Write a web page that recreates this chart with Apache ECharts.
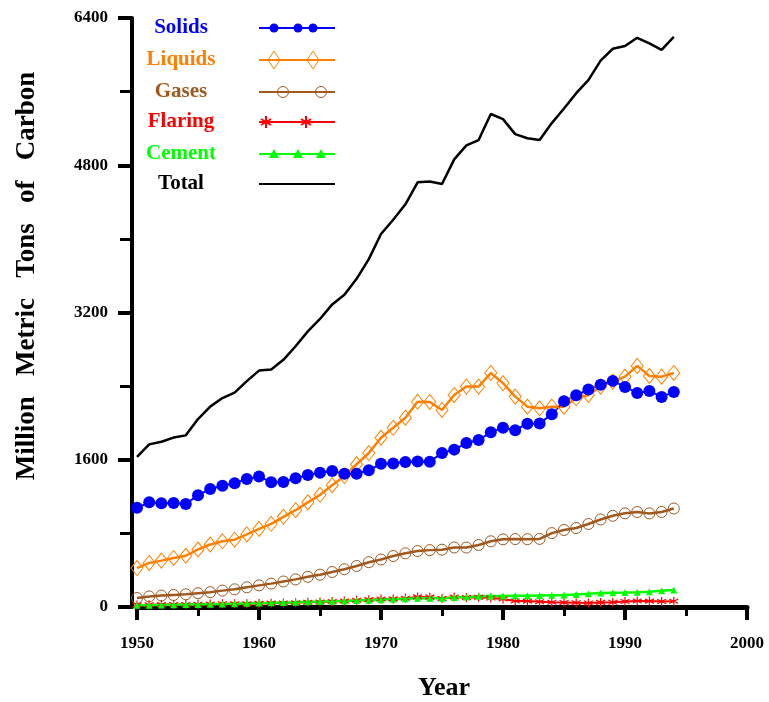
<!DOCTYPE html>
<html>
<head>
<meta charset="utf-8">
<script src="https://cdn.jsdelivr.net/npm/echarts@6/dist/echarts.min.js"></script>
<style>
html,body{margin:0;padding:0;background:#fff;}
#chart{width:769px;height:702px;}
</style>
</head>
<body>
<div id="chart"></div>
<script>
var years = [];
for (var y = 1950; y <= 1994; y++) years.push(y);

var solids = [1078,1137,1127,1129,1119,1215,1281,1317,1344,1390,1419,1356,1358,1398,1435,1460,1478,1448,1448,1486,1556,1559,1576,1581,1579,1673,1710,1781,1814,1899,1947,1921,1992,1995,2094,2237,2300,2364,2415,2457,2391,2326,2348,2283,2337];
var liquids = [423,479,504,533,557,625,679,714,731,789,849,904,980,1052,1137,1219,1323,1423,1551,1673,1839,1947,2057,2230,2228,2141,2304,2395,2395,2543,2433,2286,2177,2159,2177,2177,2268,2304,2395,2449,2503,2620,2510,2503,2543];
var gases = [97,115,124,131,138,150,161,178,192,214,235,254,277,300,328,351,380,410,446,487,516,554,583,608,618,623,647,646,674,714,735,738,737,740,803,837,858,902,951,991,1018,1032,1017,1033,1070];
var flaring = [23,24,26,27,27,30,32,35,35,36,39,42,44,47,51,55,60,66,73,80,87,88,95,110,107,92,108,104,106,98,86,65,64,58,51,49,46,44,50,51,60,65,64,60,62];
var cement = [18,20,22,24,26,27,30,32,36,40,43,45,49,51,57,59,63,65,70,74,78,84,89,95,96,95,103,108,116,119,120,121,121,125,128,131,137,143,152,156,157,161,167,176,186];
var total = [1630,1767,1795,1841,1865,2042,2177,2270,2330,2454,2569,2580,2686,2833,2995,3130,3288,3393,3566,3780,4053,4208,4376,4614,4623,4596,4864,5016,5074,5357,5301,5138,5094,5075,5258,5417,5583,5725,5936,6066,6096,6185,6124,6054,6196];

var seriesNames = ['Solids','Liquids','Gases','Flaring','Cement','Total'];
var seriesColors = ['#0000ff','#ff8000','#a0581e','#ff0000','#00ff00','#000000'];
var xTicks = [1950,1960,1970,1980,1990,2000];
var yTicks = [0,1600,3200,4800,6400];

function pairs(arr){ return years.map(function(yr,i){ return [yr, arr[i]]; }); }

var FONT = '"Liberation Serif","DejaVu Serif",serif';
var asterisk = 'path://M5,0 L5,10 M0.7,2.5 L9.3,7.5 M0.7,7.5 L9.3,2.5';

// legend drawn as graphics
var rowsY = [28,60,92,122,154,184];
var graphics = [];
seriesNames.forEach(function(n,i){
  var c = seriesColors[i], yy = rowsY[i];
  graphics.push({type:'text', x:181, y:yy, style:{text:n, fill:c, font:'bold 21px '+FONT, align:'center', verticalAlign:'middle'}});
  graphics.push({type:'line', shape:{x1:259,y1:yy,x2:335,y2:yy}, style:{stroke:c, lineWidth:2}});
});
[274,298,313].forEach(function(x){ graphics.push({type:'circle', shape:{cx:x, cy:rowsY[0], r:4.5}, style:{fill:seriesColors[0]}}); });
[274,313].forEach(function(x){ graphics.push({type:'polygon', shape:{points:[[x,rowsY[1]-9],[x+6,rowsY[1]],[x,rowsY[1]+9],[x-6,rowsY[1]]]}, style:{fill:'none', stroke:seriesColors[1], lineWidth:1}}); });
[283,321].forEach(function(x){ graphics.push({type:'circle', shape:{cx:x, cy:rowsY[2], r:5.5}, style:{fill:'none', stroke:seriesColors[2], lineWidth:1}}); });
[266,306].forEach(function(x){
  var cy = rowsY[3];
  graphics.push({type:'line', shape:{x1:x,y1:cy-6,x2:x,y2:cy+6}, style:{stroke:seriesColors[3], lineWidth:2}});
  graphics.push({type:'line', shape:{x1:x-5,y1:cy-3,x2:x+5,y2:cy+3}, style:{stroke:seriesColors[3], lineWidth:2}});
  graphics.push({type:'line', shape:{x1:x-5,y1:cy+3,x2:x+5,y2:cy-3}, style:{stroke:seriesColors[3], lineWidth:2}});
});
[274,298,321].forEach(function(x){ var cy=rowsY[4]; graphics.push({type:'polygon', shape:{points:[[x,cy-5],[x+5,cy+4],[x-5,cy+4]]}, style:{fill:seriesColors[4]}}); });

graphics.push({type:'text', x:27, y:276, rotation:Math.PI/2, style:{text:'Million   Metric   Tons   of   Carbon', fill:'#000', font:'bold 27px '+FONT, align:'center', verticalAlign:'middle'}});
graphics.push({type:'text', x:444, y:688, style:{text:'Year', fill:'#000', font:'bold 26px '+FONT, align:'center', verticalAlign:'middle'}});

var option = {
  animation:false,
  backgroundColor:'#fff',
  grid:{left:137, right:22, top:18, bottom:95},
  xAxis:{
    type:'value', min:1950, max:2000, interval:10, offset:2,
    axisLine:{lineStyle:{color:'#000', width:5}},
    axisTick:{length:13, lineStyle:{color:'#000', width:4}},
    minorTick:{show:true, splitNumber:2, length:9, lineStyle:{color:'#000', width:3}},
    axisLabel:{color:'#000', fontFamily:FONT, fontWeight:'bold', fontSize:17, margin:26,
      formatter:function(v){ return xTicks.indexOf(v)>=0 ? String(v) : ''; }},
    splitLine:{show:false}
  },
  yAxis:{
    type:'value', min:0, max:6400, interval:1600, offset:5,
    axisLine:{show:true, lineStyle:{color:'#000', width:4}},
    axisTick:{show:true, length:14, lineStyle:{color:'#000', width:4}},
    minorTick:{show:true, splitNumber:2, length:12, lineStyle:{color:'#000', width:3}},
    axisLabel:{color:'#000', fontFamily:FONT, fontWeight:'bold', fontSize:17, margin:24,
      formatter:function(v){ return yTicks.indexOf(v)>=0 ? String(v) : ''; }},
    splitLine:{show:false}
  },
  graphic:graphics,
  series:[
    {name:'Gases', type:'line', data:pairs(gases), symbol:'circle', symbolSize:11, showAllSymbol:true,
      lineStyle:{color:seriesColors[2], width:2.5}, itemStyle:{color:'transparent', borderColor:seriesColors[2], borderWidth:1}},
    {name:'Liquids', type:'line', data:pairs(liquids), symbol:'diamond', symbolSize:[12,15], showAllSymbol:true,
      lineStyle:{color:seriesColors[1], width:2.5}, itemStyle:{color:'transparent', borderColor:seriesColors[1], borderWidth:1}},
    {name:'Flaring', type:'line', data:pairs(flaring), symbol:asterisk, symbolSize:9, showAllSymbol:true,
      lineStyle:{color:seriesColors[3], width:2}, itemStyle:{color:'transparent', borderColor:seriesColors[3], borderWidth:1.2}},
    {name:'Cement', type:'line', data:pairs(cement), symbol:'triangle', symbolSize:7, showAllSymbol:true,
      lineStyle:{color:seriesColors[4], width:2.5}, itemStyle:{color:seriesColors[4]}},
    {name:'Solids', type:'line', data:pairs(solids), symbol:'circle', symbolSize:12, showAllSymbol:true,
      lineStyle:{color:seriesColors[0], width:2}, itemStyle:{color:seriesColors[0]}},
    {name:'Total', type:'line', data:pairs(total), symbol:'none',
      lineStyle:{color:'#000', width:2.5}}
  ]
};
var chart = echarts.init(document.getElementById('chart'), null, {renderer:'canvas'});
chart.setOption(option);
</script>
</body>
</html>
